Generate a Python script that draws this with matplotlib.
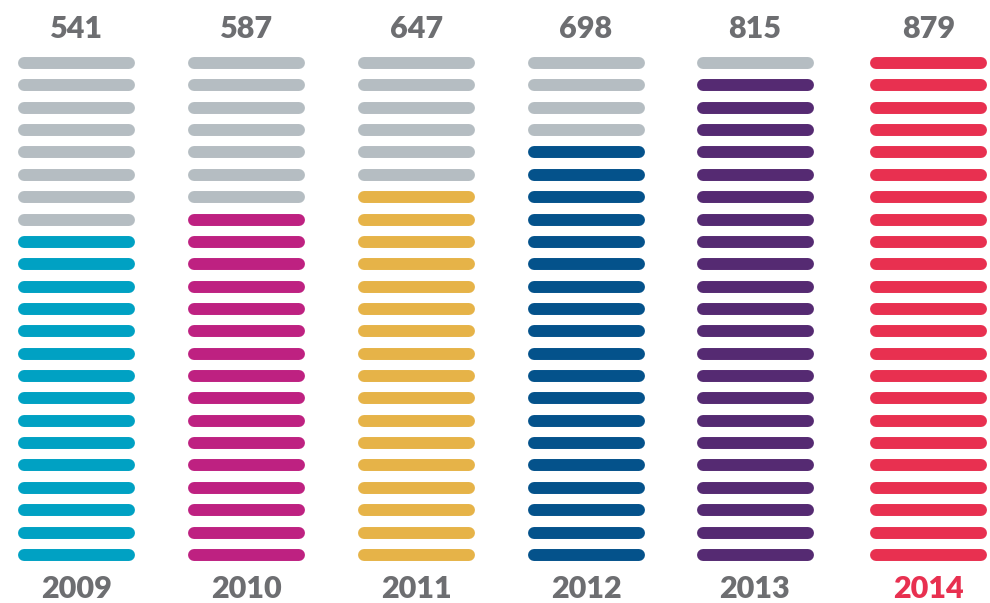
import matplotlib.pyplot as plt

# dados do grafico
anos = ['2009', '2010', '2011', '2012', '2013', '2014']
valores = [541, 587, 647, 698, 815, 879]
barras_coloridas = [15, 16, 17, 19, 22, 23]
total_barras = 23
cores = ['#00a1c3', '#be2181', '#e6b348', '#04528b', '#552a72', '#e83050']
cor_cinza = '#b5bdc2'
cor_texto = '#6d6e71'

figura = plt.figure(figsize=(9.9, 6.03), dpi=100)
eixo = figura.add_axes([0, 0, 1, 1])
eixo.set_xlim(0, 990)
eixo.set_ylim(603, 0)
eixo.axis('off')

centros = [76.5, 246.5, 416.5, 586, 755, 928.5]
meia_largura = 52.5
topo, passo = 63, 22.36

for i, ano in enumerate(anos):
    cx = centros[i]
    cinzas = total_barras - barras_coloridas[i]
    for linha in range(total_barras):
        y = topo + linha * passo
        cor = cor_cinza if linha < cinzas else cores[i]
        eixo.plot([cx - meia_largura, cx + meia_largura], [y, y], color=cor,
                  linewidth=8.6, solid_capstyle='round')

    eixo.text(cx, 29, str(valores[i]), ha='center', va='center',
              fontsize=22, fontweight='heavy', family='Lato', color=cor_texto)
    cor_ano = cores[i] if i == len(anos) - 1 else cor_texto
    eixo.text(cx, 589, ano, ha='center', va='center',
              fontsize=22, fontweight='heavy', family='Lato', color=cor_ano)

figura.savefig('out.png', dpi=100)
